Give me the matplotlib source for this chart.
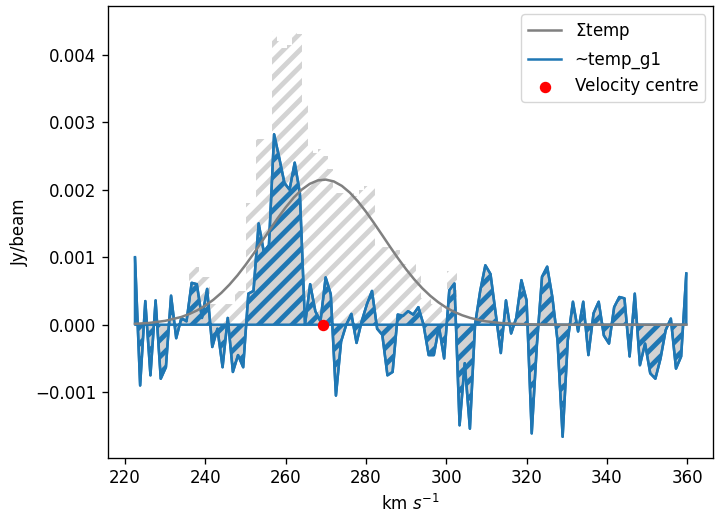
import numpy as np
import matplotlib.pyplot as plt

# channel grid (km/s) and spectra (values in mJy/beam, scaled below)
v_start = 222.49
chan_width = 1.283

temp_g1 = [1.0, -0.9, 0.35, -0.75, 0.36, -0.8, -0.63, 0.43, -0.2, 0.1,
           0.05, 0.62, 0.6, 0.1, 0.53, -0.33, -0.06, -0.63, 0.1, -0.7,
           -0.45, -0.63, 0.46, 0.5, 1.5, 1.08, 1.18, 2.82, 2.47, 2.1,
           2.0, 2.4, 1.95, 0.0, 0.6, 0.2, 0.05, 0.7, 0.45, -1.05,
           -0.25, 0.0, 0.16, -0.27, 0.05, 0.3, 0.5, -0.06, -0.15, -0.75,
           -0.7, 0.15, 0.13, 0.2, 0.15, 0.26, 0.0, -0.45, -0.45, -0.03,
           -0.5, 0.51, 0.61, -1.49, -0.57, -1.54, 0.0, 0.5, 0.88, 0.75,
           0.17, -0.42, 0.36, -0.13, 0.1, 0.66, 0.36, -1.61, -0.3, 0.71,
           0.86, 0.41, -0.23, -1.66, -0.23, 0.34, -0.1, 0.34, -0.45, 0.17,
           0.34, -0.16, -0.28, 0.26, 0.41, 0.39, -0.47, 0.46, -0.6, -0.28,
           -0.72, -0.8, -0.5, -0.08, 0.09, -0.65, -0.47, 0.76]

temp_total = [0, 0, 0, 0, 0, 0, 0, 0, 0, 0,
              0, 0.85, 0.85, 0.7, 0.7, 0.3, 0.3, 0.3, 0.3, 0.3,
              0.5, 0.5, 1.8, 1.8, 2.75, 2.75, 2.75, 4.35, 4.2, 4.1,
              4.15, 4.35, 4.3, 3.3, 2.6, 2.55, 2.6, 2.5, 2.3, 1.95,
              1.95, 1.9, 1.95, 1.9, 2.0, 2.05, 2.05, 1.15, 1.15, 1.15,
              1.1, 1.1, 0.9, 0.9, 0.9, 0.8, 0.4, 0.4, 0.3, 0.3,
              0.2, 0.8, 0.8, 0, 0, 0, 0, 0, 0, 0,
              0, 0, 0, 0, 0, 0, 0, 0, 0, 0,
              0, 0, 0, 0, 0, 0, 0, 0, 0, 0,
              0, 0, 0, 0, 0, 0, 0, 0, 0, 0,
              0, 0, 0, 0, 0, 0, 0, 0]

# summed gaussian model, sampled
sum_vel = [222.5, 226, 230, 234, 236, 238, 240, 242, 244, 246, 248, 250,
           252, 254, 256, 258, 260, 262, 264, 266, 268, 270, 272, 274, 276,
           278, 280, 282, 284, 286, 288, 290, 292, 294, 296, 298, 300, 302,
           304, 306, 308, 310, 314, 318, 322, 326, 330, 359.8]
sum_val = [0.013, 0.026, 0.057, 0.114, 0.158, 0.213, 0.283, 0.369, 0.472,
           0.593, 0.730, 0.884, 1.050, 1.224, 1.401, 1.575, 1.737, 1.881,
           2.000, 2.086, 2.137, 2.149, 2.122, 2.056, 1.956, 1.826, 1.674,
           1.506, 1.331, 1.154, 0.982, 0.821, 0.673, 0.542, 0.429, 0.333,
           0.253, 0.189, 0.139, 0.100, 0.071, 0.049, 0.022, 0.010, 0.004,
           0.0015, 0.0, 0.0]

v_centre = 269.2

vel = v_start + chan_width * np.arange(len(temp_g1))
g1 = np.array(temp_g1) * 1e-3
tot = np.array(temp_total) * 1e-3
sv = np.array(sum_vel)
sy = np.array(sum_val) * 1e-3

# reference was rendered at a larger scale -> bump sizes by 1.2
plt.rcParams.update({
    'font.size': 12,
    'axes.linewidth': 0.96,
    'xtick.major.size': 4.2, 'ytick.major.size': 4.2,
    'xtick.major.width': 0.96, 'ytick.major.width': 0.96,
    'xtick.major.pad': 4.2, 'ytick.major.pad': 4.2,
    'axes.labelpad': 4.8,
    'hatch.linewidth': 3.5,
})

fig = plt.figure(figsize=(7.19, 5.19), dpi=100)
ax = fig.add_axes([0.1506, 0.1181, 0.8415, 0.8703])

ax.fill_between(vel, tot, step='mid', facecolor='none', edgecolor='lightgrey',
                hatch='//', linewidth=0, zorder=1)
ax.fill_between(vel, g1, facecolor='lightgrey', edgecolor='C0', hatch='//',
                linewidth=1.8, zorder=2)
ax.plot(sv, sy, color='grey', lw=1.8, label=r'$\Sigma$temp', zorder=4)
ax.plot(vel, g1, color='C0', lw=1.8, label='~temp_g1', zorder=3)
ax.scatter([v_centre], [0], color='red', s=52, zorder=5, label='Velocity centre')

ax.set_xlim(215.84, 366.5)
ax.set_ylim(-0.00197, 0.00472)
ax.set_xlabel(r'km $s^{-1}$')
ax.set_ylabel('Jy/beam')
ax.legend(loc='upper right')

fig.savefig('out.png', dpi=100)
